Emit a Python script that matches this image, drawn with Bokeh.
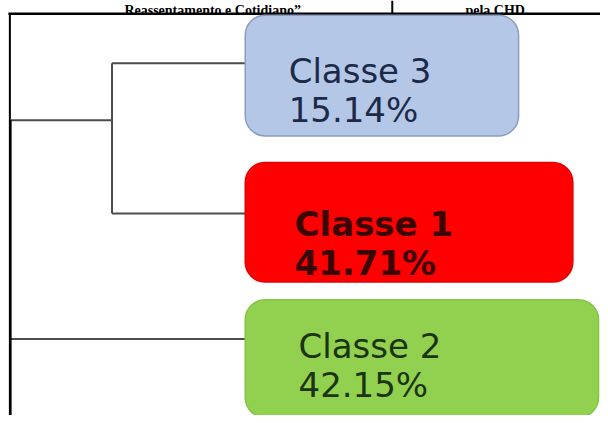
from bokeh.plotting import figure
from bokeh.models import ColumnDataSource, Range1d
from bokeh.core.properties import value
from bokeh.embed import file_html
from bokeh.resources import INLINE

# ---- data ----
classes = ["Classe 3", "Classe 1", "Classe 2"]
percents = [15.14, 41.71, 42.15]
title_parts = ["Reassentamento e Cotidiano\u201d", "pela CHD."]

# ---- styles / layout (reference pixel space) ----
fills = ["#B4C7E7", "#FF0000", "#92D050"]
borders = ["#8A9DBE", "#E60000", "#86C448"]
text_colors = ["#1C2A48", "#3A0505", "#1B3412"]
weights = ["normal", "bold", "normal"]
box_left = 248
box_right = [525, 580, 606]
box_top = [15, 165, 305]
box_bottom = [138, 287, 425]
text_x = [292, 298, 302]
name_y = [72, 228, 352]
pct_y = [112, 268, 392]
leaf_y = [64, 217, 345]
leaf_x, inner_x, root_x, inner_y = 248, 113, 10, 122
title_x = [215, 503]

p = figure(width=600, height=415, x_range=Range1d(0, 608), y_range=Range1d(423, 0),
           output_backend="svg", toolbar_location=None, min_border=0)
p.axis.visible = False
p.grid.visible = False
p.outline_line_color = None
p.background_fill_color = "white"
p.border_fill_color = "white"

# table frame
p.segment(x0=[8], y0=[13.5], x1=[608], y1=[13.5], line_color="black", line_width=2.5)
p.segment(x0=[9.5], y0=[13], x1=[9.5], y1=[423], line_color="black", line_width=2)
p.segment(x0=[397], y0=[0], x1=[397], y1=[13], line_color="black", line_width=2)

# title
for tx, tt in zip(title_x, title_parts):
    p.text(x=[tx], y=[10.5], text=[tt], text_font=value("Liberation Serif"),
           text_font_style="bold", text_font_size="14px", text_baseline="alphabetic",
           text_align="center", text_color="black")

# dendrogram
dx0 = [inner_x, inner_x, inner_x, root_x, root_x]
dy0 = [leaf_y[0], leaf_y[1], leaf_y[0], inner_y, leaf_y[2]]
dx1 = [leaf_x, leaf_x, inner_x, inner_x, leaf_x]
dy1 = [leaf_y[0], leaf_y[1], leaf_y[1], inner_y, leaf_y[2]]
p.segment(x0=dx0, y0=dy0, x1=dx1, y1=dy1, line_color="#4D4D4D", line_width=2)
p.segment(x0=[root_x], y0=[inner_y], x1=[root_x], y1=[423], line_color="black", line_width=2.5)

# boxes
src = ColumnDataSource(dict(left=[box_left] * 3, right=box_right, top=box_top,
                            bottom=box_bottom, fill=fills, border=borders))
p.quad(left="left", right="right", top="top", bottom="bottom", source=src,
       fill_color="fill", line_color="border", line_width=1.5, border_radius=20)

# labels
for i, (c, v) in enumerate(zip(classes, percents)):
    p.text(x=[text_x[i]], y=[name_y[i]], text=[c], text_font=value("DejaVu Sans"),
           text_font_size="34px", text_font_style=weights[i], text_baseline="alphabetic",
           text_color=text_colors[i])
    p.text(x=[text_x[i]], y=[pct_y[i]], text=[f"{v:.2f}%"], text_font=value("DejaVu Sans"),
           text_font_size="34px", text_font_style=weights[i], text_baseline="alphabetic",
           text_color=text_colors[i])

open("out.html", "w").write(file_html(p, INLINE))
